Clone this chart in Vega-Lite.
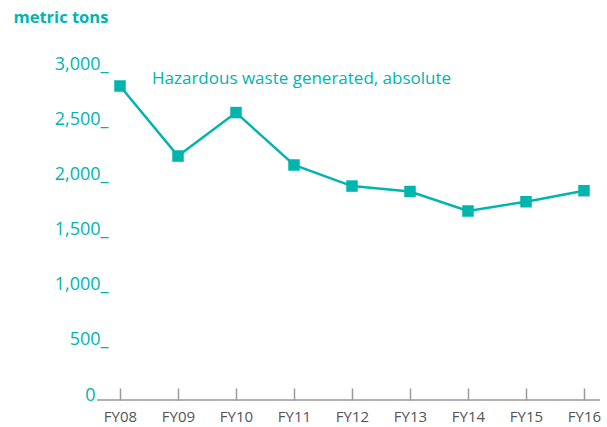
{
  "$schema": "https://vega.github.io/schema/vega-lite/v6.json",
  "width": 503,
  "height": 331,
  "autosize": {"type": "none"},
  "padding": {"left": 97, "top": 69, "right": 7, "bottom": 27},
  "background": "white",
  "config": {"view": {"stroke": null}, "font": "Open Sans"},
  "datasets": {
    "waste": [
      {"year": "FY08", "tons": 2846},
      {"year": "FY09", "tons": 2211},
      {"year": "FY10", "tons": 2605},
      {"year": "FY11", "tons": 2130},
      {"year": "FY12", "tons": 1939},
      {"year": "FY13", "tons": 1890},
      {"year": "FY14", "tons": 1713},
      {"year": "FY15", "tons": 1797},
      {"year": "FY16", "tons": 1897}
    ],
    "note": [
      {"year": "FY08", "tons": 2910, "label": "Hazardous waste generated, absolute"}
    ],
    "base": [
      {"tons": 0}
    ]
  },
  "layer": [
    {
      "data": {"name": "base"},
      "mark": {"type": "rule", "color": "#9a9a9a", "strokeWidth": 1.5},
      "encoding": {
        "y": {"field": "tons", "type": "quantitative"}
      }
    },
    {
      "data": {"name": "waste"},
      "mark": {"type": "line", "color": "#00b5ad", "strokeWidth": 2.5},
      "encoding": {
        "x": {
          "field": "year", "type": "ordinal",
          "scale": {"type": "point", "range": [23, 487], "padding": 0},
          "axis": {
            "title": null, "labelAngle": 0,
            "domain": false,
            "tickColor": "#9a9a9a", "tickWidth": 1.5, "tickSize": -12,
            "labelColor": "#555555", "labelFontSize": 15, "labelPadding": 21,
            "labelFont": "Open Sans"
          }
        },
        "y": {
          "field": "tons", "type": "quantitative",
          "scale": {"domain": [0, 3000], "nice": false},
          "axis": {
            "values": [0, 500, 1000, 1500, 2000, 2500, 3000],
            "labelExpr": "datum.value == 0 ? '0' : format(datum.value, ',') + '_'",
            "domain": false, "ticks": false, "grid": false,
            "labelColor": "#00b5ad", "labelFontSize": 18, "labelFont": "Open Sans",
            "labelPadding": {"condition": {"test": "datum.value == 0", "value": 2}, "value": -11},
            "labelBaseline": "alphabetic",
            "title": "metric tons", "titleAngle": 0, "titleAlign": "left",
            "titleBaseline": "alphabetic", "titleX": -84, "titleY": -47,
            "titleColor": "#00b5ad", "titleFontSize": 16.5, "titleFontWeight": "bold",
            "titleFont": "Open Sans"
          }
        }
      }
    },
    {
      "data": {"name": "waste"},
      "mark": {"type": "point", "shape": "square", "filled": true, "size": 132, "color": "#00b5ad", "opacity": 1},
      "encoding": {
        "x": {"field": "year", "type": "ordinal"},
        "y": {"field": "tons", "type": "quantitative"}
      }
    },
    {
      "data": {"name": "note"},
      "mark": {"type": "text", "align": "left", "baseline": "middle", "dx": 32, "fontSize": 17, "color": "#00b5ad", "font": "Open Sans"},
      "encoding": {
        "x": {"field": "year", "type": "ordinal"},
        "y": {"field": "tons", "type": "quantitative"},
        "text": {"field": "label"}
      }
    }
  ]
}
